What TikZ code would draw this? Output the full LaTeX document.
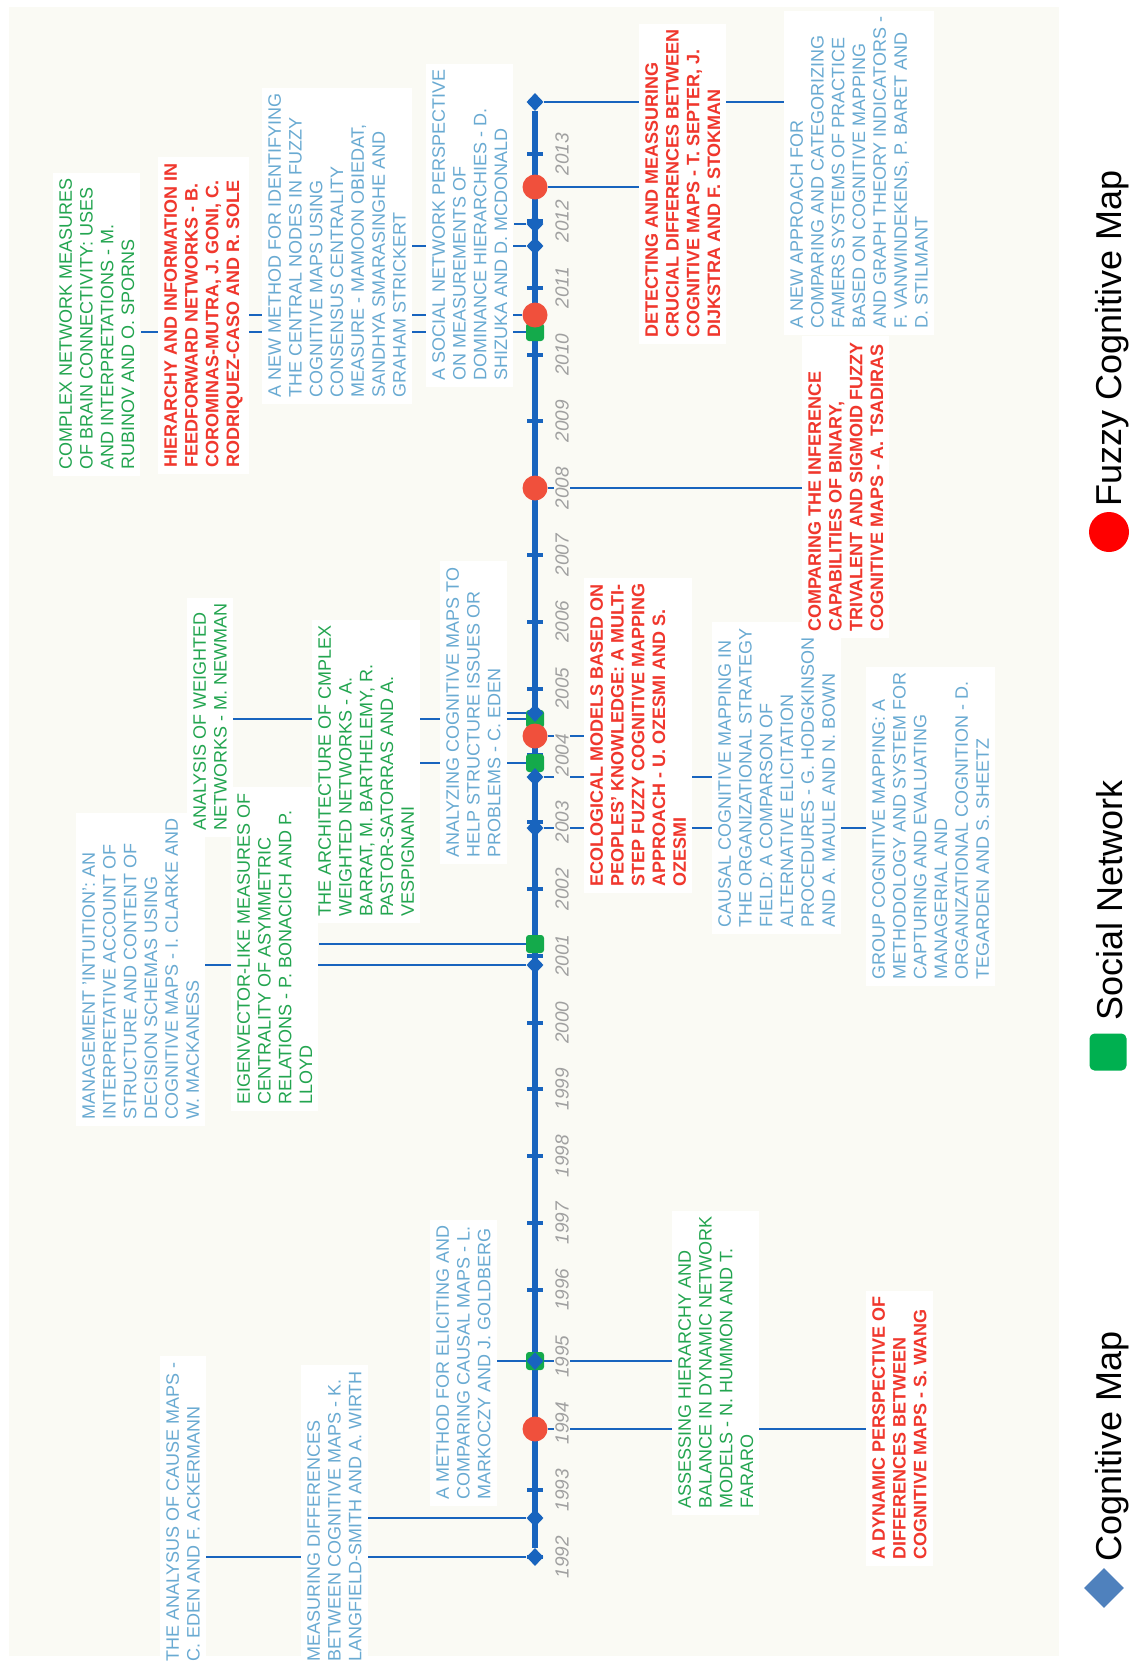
\documentclass[tikz,border=0pt]{standalone}
\usepackage{fontspec}
\setmainfont{Liberation Sans}
\usetikzlibrary{shapes.geometric}
\definecolor{axisblue}{RGB}{24,100,190}
\definecolor{fcmred}{RGB}{240,80,60}
\definecolor{sngreen}{RGB}{20,170,75}
\definecolor{cmtxt}{RGB}{105,170,210}
\definecolor{sntxt}{RGB}{35,165,80}
\definecolor{fcmtxt}{RGB}{240,55,45}
\definecolor{cream}{RGB}{250,250,244}
\definecolor{yeargray}{RGB}{160,160,160}
\definecolor{keyblue}{RGB}{79,129,189}
\definecolor{keygreen}{RGB}{0,176,80}
\definecolor{keyred}{RGB}{255,0,0}
\pgfdeclarelayer{bg}
\pgfdeclarelayer{lines}
\pgfsetlayers{bg,lines,main}
\tikzset{
  paper/.style={rotate=90,anchor=north west,align=left,fill=white,inner sep=6pt,
    font=\fontsize{18}{20.8}\selectfont},
  cmpaper/.style={paper,text=cmtxt},
  snpaper/.style={paper,text=sntxt},
  fcmpaper/.style={paper,text=fcmtxt,font=\fontsize{18}{20.8}\selectfont\bfseries},
  cmmark/.style={diamond,fill=axisblue,inner sep=0pt,minimum width=17pt,minimum height=18pt},
  snmark/.style={rectangle,rounded corners=3pt,fill=sngreen,inner sep=0pt,minimum size=18pt},
  fcmmark/.style={circle,fill=fcmred,inner sep=0pt,minimum size=25pt},
  link/.style={draw=axisblue,line width=2.6pt},
  yearlbl/.style={rotate=90,fill=cream,inner sep=1.5pt,text=yeargray,
    font=\fontsize{19}{19}\selectfont\itshape},
  keytext/.style={rotate=90,anchor=west,inner sep=0pt,font=\fontsize{36}{40}\selectfont}
}
\newcommand{\cmnode}{\node[cmmark]}
\newcommand{\snnode}{\node[snmark]}
\newcommand{\fcmnode}{\node[fcmmark]}
\newcommand{\cmpaper}{\node[cmpaper]}
\newcommand{\snpaper}{\node[snpaper]}
\newcommand{\fcmpaper}{\node[fcmpaper]}

\begin{document}
\begin{tikzpicture}[x=1pt,y=-1pt]
  \useasboundingbox (0,0) rectangle (1130,1663);
  \begin{pgfonlayer}{bg}
    \fill[white] (0,0) rectangle (1130,1663);
    \fill[cream] (9,7) rectangle (1059,1656);
  \end{pgfonlayer}
  % markers on the time line
  \snnode (s95) at (535,1361) {};
  \snnode (s01) at (535,944) {};
  \snnode (s03) at (535,763) {};
  \snnode (s04) at (535,719) {};
  \snnode (s10) at (535,332) {};
  \fcmnode (c94) at (535,1429) {};
  \fcmnode (c04) at (535,736) {};
  \fcmnode (c08) at (535,488) {};
  \fcmnode (c10) at (535,315) {};
  \fcmnode (c12) at (535,187) {};
  \cmnode (d92) at (535,1557) {};
  \cmnode (d93) at (535,1518) {};
  \cmnode (d95) at (535,1361) {};
  \cmnode (d01) at (535,965) {};
  \cmnode (d03a) at (535,828) {};
  \cmnode (d03b) at (535,777) {};
  \cmnode (d04) at (535,713) {};
  \cmnode (d11) at (535,246) {};
  \cmnode (d12) at (535,224) {};
  \cmnode (d13) at (535,102) {};
  % papers
  \cmpaper (ackermann) at (160,1668) {THE ANALYSUS OF CAUSE MAPS -\\C. EDEN AND F. ACKERMANN};
  \cmpaper (wirth) at (301,1668) {MEASURING DIFFERENCES\\BETWEEN COGNITIVE MAPS - K.\\LANGFIELD-SMITH AND A. WIRTH};
  \cmpaper (goldberg) at (430,1506) {A METHOD FOR ELICITING AND\\COMPARING CAUSAL MAPS - L.\\MARKOCZY AND J. GOLDBERG};
  \snpaper (fararo) at (672,1515) {ASSESSING HIERARCHY AND\\BALANCE IN DYNAMIC NETWORK\\MODELS - N. HUMMON AND T.\\FARARO};
  \fcmpaper (wang) at (866,1566) {A DYNAMIC PERSPECTIVE OF\\DIFFERENCES BETWEEN\\COGNITIVE MAPS - S. WANG};
  \cmpaper (mackaness) at (76,1126) {MANAGEMENT 'INTUITION': AN\\INTERPRETATIVE ACCOUNT OF\\STRUCTURE AND CONTENT OF\\DECISION SCHEMAS USING\\COGNITIVE MAPS - I. CLARKE AND\\W. MACKANESS};
  \snpaper (lloyd) at (231,1111) {EIGENVECTOR-LIKE MEASURES OF\\CENTRALITY OF ASYMMETRIC\\RELATIONS - P. BONACICH AND P.\\LLOYD};
  \snpaper (newman) at (187,837) {ANALYSIS OF WEIGHTED\\NETWORKS - M. NEWMAN};
  \snpaper (vespignani) at (312,923) {THE ARCHITECTURE OF CMPLEX\\WEIGHTED NETWORKS - A.\\BARRAT, M. BARTHELEMY, R.\\PASTOR-SATORRAS AND A.\\VESPIGNANI};
  \cmpaper (eden) at (440,864) {ANALYZING COGNITIVE MAPS TO\\HELP STRUCTURE ISSUES OR\\PROBLEMS - C. EDEN};
  \fcmpaper (ozesmi) at (584,893) {ECOLOGICAL MODELS BASED ON\\PEOPLES' KNOWLEDGE: A MULTI-\\STEP FUZZY COGNITIVE MAPPING\\APPROACH - U. OZESMI AND S.\\OZESMI};
  \cmpaper (bown) at (712,934) {CAUSAL COGNITIVE MAPPING IN\\THE ORGANIZATIONAL STRATEGY\\FIELD: A COMPARSON OF\\ALTERNATIVE ELICITATION\\PROCEDURES - G. HODGKINSON\\AND A. MAULE AND N. BOWN};
  \cmpaper (sheetz) at (866,986) {GROUP COGNITIVE MAPPING: A\\METHODOLOGY AND SYSTEM FOR\\CAPTURING AND EVALUATING\\MANAGERIAL AND\\ORGANIZATIONAL COGNITION - D.\\TEGARDEN AND S. SHEETZ};
  \fcmpaper (tsadiras) at (802,638) {COMPARING THE INFERENCE\\CAPABILITIES OF BINARY,\\TRIVALENT AND SIGMOID FUZZY\\COGNITIVE MAPS - A. TSADIRAS};
  \snpaper (sporns) at (53,476) {COMPLEX NETWORK MEASURES\\OF BRAIN CONNECTIVITY: USES\\AND INTERPRETATIONS - M.\\RUBINOV AND O. SPORNS};
  \fcmpaper (sole) at (158,474) {HIERARCHY AND INFORMATION IN\\FEEDFORWARD NETWORKS - B.\\COROMINAS-MUTRA, J. GONI, C.\\RODRIQUEZ-CASO AND R. SOLE};
  \cmpaper (strickert) at (262,404) {A NEW METHOD FOR IDENTIFYING\\THE CENTRAL NODES IN FUZZY\\COGNITIVE MAPS USING\\CONSENSUS CENTRALITY\\MEASURE - MAMOON OBIEDAT,\\SANDHYA SMARASINGHE AND\\GRAHAM STRICKERT};
  \cmpaper (mcdonald) at (426,387) {A SOCIAL NETWORK PERSPECTIVE\\ON MEASUREMENTS OF\\DOMINANCE HIERARCHIES - D.\\SHIZUKA AND D. MCDONALD};
  \fcmpaper (stokman) at (639,344) {DETECTING AND MEASSURING\\CRUCIAL DIFFERENCES BETWEEN\\COGNITIVE MAPS - T. SEPTER, J.\\DIJKSTRA AND F. STOKMAN};
  \cmpaper (stilmant) at (784,335) {A NEW APPROACH FOR\\COMPARING AND CATEGORIZING\\FAMERS SYSTEMS OF PRACTICE\\BASED ON COGNITIVE MAPPING\\AND GRAPH THEORY INDICATORS -\\F. VANWINDEKENS, P. BARET AND\\D. STILMANT};
  % years
  \foreach \yr in {1992,...,2013}{
    \pgfmathsetmacro{\yy}{1557-66.8*(\yr-1992)}
    \node[yearlbl] (y\yr) at (562,\yy) {\yr};
  }
  % legend
  \node[diamond,fill=keyblue,inner sep=0pt,minimum width=40pt,minimum height=40pt] (keycm) at (1104,1588) {};
  \node[keytext] (keycmlbl) at (1112,1562) {Cognitive Map};
  \node[rectangle,rounded corners=5pt,fill=keygreen,inner sep=0pt,minimum size=37pt] (keysn) at (1108,1052) {};
  \node[keytext] (keysnlbl) at (1110,1021) {Social Network};
  \node[circle,fill=keyred,inner sep=0pt,minimum size=40pt] (keyfcm) at (1109,532) {};
  \node[keytext] (keyfcmlbl) at (1112,507) {Fuzzy Cognitive Map};
  \begin{pgfonlayer}{lines}
    \draw[axisblue,line width=5.5pt] (d13) -- (d92);
    \foreach \yr in {1992,...,2013}{
      \pgfmathsetmacro{\yy}{1557-66.8*(\yr-1992)}
      \draw[axisblue,line width=4pt] (527,\yy) -- (543,\yy);
    }
    \draw[link] (d92) -- (d92 -| ackermann.south);
    \draw[link] (d93) -- (d93 -| wirth.south);
    \draw[link] (d95) -- (d95 -| goldberg.south);
    \draw[link] (s95) -- (s95 -| fararo.north);
    \draw[link] (c94) -- (c94 -| wang.north);
    \draw[link] (d01) -- (d01 -| mackaness.south);
    \draw[link] (s01) -- (s01 -| lloyd.south);
    \draw[link] (s04) -- (s04 -| newman.south);
    \draw[link] (s03) -- (s03 -| vespignani.south);
    \draw[link] (d04) -- (d04 -| eden.south);
    \draw[link] (c04) -- (c04 -| ozesmi.north);
    \draw[link] (d03b) -- (d03b -| bown.north);
    \draw[link] (d03a) -- (d03a -| sheetz.north);
    \draw[link] (c08) -- (c08 -| tsadiras.north);
    \draw[link] (s10) -- (s10 -| sporns.south);
    \draw[link] (c10) -- (c10 -| sole.south);
    \draw[link] (d11) -- (d11 -| strickert.south);
    \draw[link] (d12) -- (d12 -| mcdonald.south);
    \draw[link] (c12) -- (c12 -| stokman.north);
    \draw[link] (d13) -- (d13 -| stilmant.north);
  \end{pgfonlayer}
\end{tikzpicture}
\end{document}
